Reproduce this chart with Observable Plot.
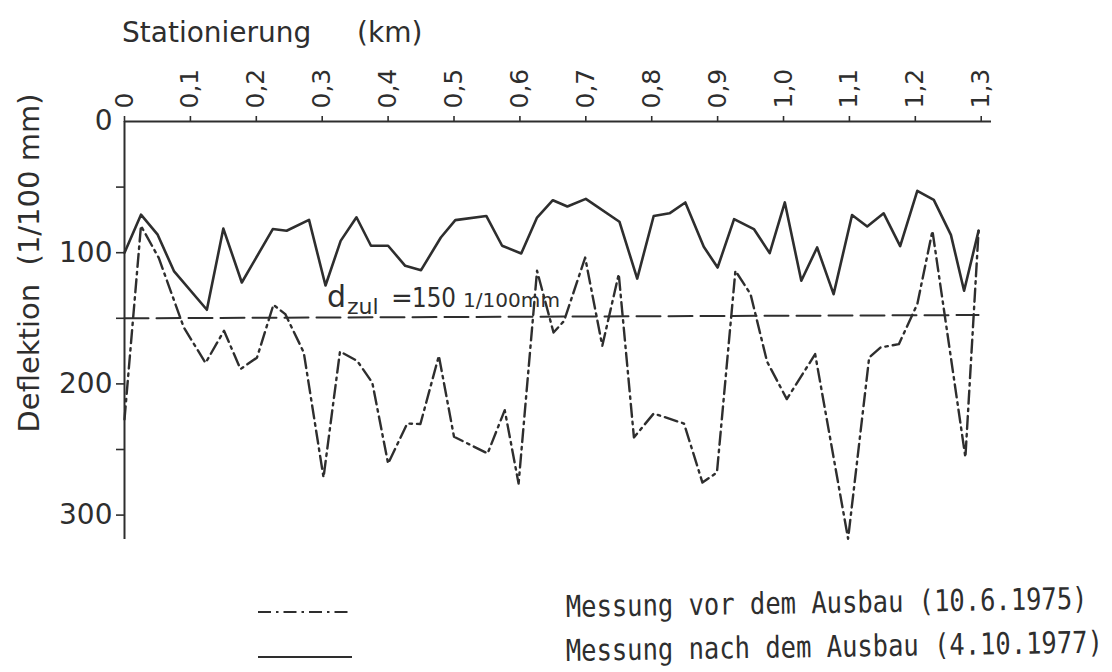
<!DOCTYPE html>
<html>
<head>
<meta charset="utf-8">
<script src="https://cdn.jsdelivr.net/npm/d3@7"></script>
<script src="https://cdn.jsdelivr.net/npm/@observablehq/plot@0.6"></script>
<style>
  html, body { margin: 0; padding: 0; background: #fff; }
  #chart { width: 1112px; height: 672px; overflow: hidden; }
</style>
</head>
<body>
<div id="chart"></div>
<script>
// ---- Data ----
const xTicks = [0, 0.1, 0.2, 0.3, 0.4, 0.5, 0.6, 0.7, 0.8, 0.9, 1.0, 1.1, 1.2, 1.3];
const xTickLabels = ["0", "0,1", "0,2", "0,3", "0,4", "0,5", "0,6", "0,7", "0,8", "0,9", "1,0", "1,1", "1,2", "1,3"];
const yLabelTicks = [0, 100, 200, 300];
const yMinorTicks = [50, 100, 150, 200, 250, 300];

// Messung nach dem Ausbau (4.10.1977) – solid line
const nachKm = [0, 0.025, 0.05, 0.075, 0.125, 0.15, 0.178, 0.225, 0.246, 0.28, 0.305, 0.328, 0.352, 0.374, 0.40, 0.426, 0.45, 0.48, 0.502, 0.549, 0.573, 0.602, 0.626, 0.65, 0.672, 0.70, 0.751, 0.778, 0.803, 0.827, 0.851, 0.879, 0.90, 0.925, 0.955, 0.979, 1.002, 1.027, 1.051, 1.076, 1.104, 1.127, 1.152, 1.177, 1.203, 1.228, 1.254, 1.274, 1.296];
const nachDefl = [100, 71, 86, 114, 143.5, 81.6, 122.7, 82, 83.3, 75, 125, 91, 73, 94.7, 94.7, 110, 113.3, 88.4, 75.2, 72, 94.7, 100.6, 73.2, 60, 64.8, 59, 76.4, 119.7, 72, 70, 61.7, 95.5, 111.3, 74.4, 82, 100.3, 61.7, 121.4, 96, 131.6, 71.3, 80, 70, 95, 52.8, 59.7, 86.4, 129, 83.3];

// Messung vor dem Ausbau (10.6.1975) – dash-dot line
const vorKm = [0, 0.025, 0.052, 0.09, 0.123, 0.151, 0.176, 0.201, 0.226, 0.244, 0.272, 0.302, 0.327, 0.353, 0.376, 0.40, 0.429, 0.449, 0.477, 0.50, 0.551, 0.577, 0.598, 0.626, 0.651, 0.667, 0.699, 0.725, 0.75, 0.773, 0.803, 0.849, 0.877, 0.899, 0.927, 0.95, 0.975, 1.005, 1.048, 1.098, 1.13, 1.147, 1.175, 1.203, 1.226, 1.276, 1.296];
const vorDefl = [227, 79.5, 104, 157, 184, 159.5, 188.7, 180, 139.7, 146.8, 176, 271.3, 175.3, 182.4, 199, 260.7, 230.2, 230.6, 178.6, 240.3, 253, 220, 276, 113.8, 160.8, 152, 103.7, 171, 116.3, 240.8, 222.6, 230.2, 275.2, 267.5, 113.8, 131.6, 183, 211.6, 177.3, 318, 179.9, 172.3, 169.7, 139.2, 83.3, 256, 83.3];

// zulässige Deflektion (dashed reference line)
const dzulKm = [0, 1.296];
const dzulDefl = [150, 147.5];

const titleMain = "Stationierung";
const titleUnit = "(km)";
const yTitle = "Deflektion  (1/100 mm)";
const legendLabels = ["Messung vor dem Ausbau (10.6.1975)", "Messung nach dem Ausbau (4.10.1977)"];

// ---- Tables ----
const nach = nachKm.map((k, i) => ({km: k, d: nachDefl[i]}));
const vor = vorKm.map((k, i) => ({km: k, d: vorDefl[i]}));
const dzul = dzulKm.map((k, i) => ({km: k, d: dzulDefl[i]}));

const ink = "#2e2e2e";
const dashDot = "13,5,2.5,5";

const plot = Plot.plot({
  width: 1112,
  height: 672,
  marginLeft: 124,
  marginRight: 121,
  marginTop: 121,
  marginBottom: 133,
  style: {fontFamily: "DejaVu Sans", color: ink, background: "#fff"},
  x: {domain: [0, 1.3156]},
  y: {domain: [0, 318.6], reverse: true},
  marks: [
    Plot.ruleY([0], {stroke: ink, strokeWidth: 2}),
    Plot.ruleX([0], {stroke: ink, strokeWidth: 2}),
    Plot.axisX({
      anchor: "top", ticks: xTicks, tickSize: 6, tickPadding: 7, tickRotate: -90,
      tickFormat: d => xTickLabels[xTicks.indexOf(d)], fontSize: 25, label: null, stroke: ink, strokeWidth: 1.6
    }),
    Plot.axisY({
      anchor: "left", ticks: yMinorTicks, tickSize: 8, tickFormat: () => "", label: null, stroke: ink, strokeWidth: 1.6
    }),
    Plot.axisY({
      anchor: "left", ticks: yLabelTicks, tickSize: 0, tickPadding: 12, fontSize: 28, label: null
    }),
    Plot.line(dzul, {x: "km", y: "d", stroke: ink, strokeWidth: 2, strokeDasharray: "24,8"}),
    Plot.line(vor, {x: "km", y: "d", stroke: ink, strokeWidth: 2.4, strokeDasharray: dashDot}),
    Plot.line(nach, {x: "km", y: "d", stroke: ink, strokeWidth: 2.6})
  ]
});

document.getElementById("chart").appendChild(plot);

const svg = d3.select(plot);
const sx = plot.scale("x"), sy = plot.scale("y");

// Title above the top axis
const title = svg.append("g").attr("fill", ink).attr("font-family", "DejaVu Sans")
  .attr("font-size", 28).attr("text-anchor", "start");
title.append("text").attr("x", 122).attr("y", 42).text(titleMain);
title.append("text").attr("x", 357).attr("y", 42).text(titleUnit);

// Y axis title
svg.append("text")
  .attr("transform", "translate(39,263) rotate(-90)")
  .attr("text-anchor", "middle")
  .attr("font-family", "DejaVu Sans")
  .attr("font-size", 29)
  .attr("fill", ink)
  .style("white-space", "pre")
  .text(yTitle);

// d_zul annotation, anchored on the data scales
const ax = sx.apply(0.308), ay = sy.apply(141.5);
const ann = svg.append("g").attr("fill", ink).attr("font-family", "DejaVu Sans").attr("text-anchor", "start");
ann.append("text").attr("x", ax).attr("y", ay).attr("font-size", 30).text("d");
ann.append("text").attr("x", ax + 20).attr("y", ay + 7).attr("font-size", 22).text("zul");
ann.append("text").attr("x", ax + 64).attr("y", ay).attr("font-size", 26).text("=");
ann.append("text").attr("x", ax + 85).attr("y", ay).attr("font-size", 26).attr("textLength", 44).attr("lengthAdjust", "spacingAndGlyphs").text("150");
ann.append("text").attr("x", ax + 136).attr("y", ay).attr("font-size", 20).attr("textLength", 97).attr("lengthAdjust", "spacingAndGlyphs").text("1/100mm");

// Legend below the plot
const leg = svg.append("g").attr("text-anchor", "start");
leg.append("line").attr("x1", 258).attr("x2", 352).attr("y1", 612).attr("y2", 612)
  .attr("stroke", ink).attr("stroke-width", 2.2).attr("stroke-dasharray", dashDot);
leg.append("line").attr("x1", 258).attr("x2", 352).attr("y1", 657).attr("y2", 657)
  .attr("stroke", ink).attr("stroke-width", 2.2);
const legY = [617, 661];
legendLabels.forEach((t, i) => {
  leg.append("text")
    .attr("x", 0).attr("y", 0)
    .attr("transform", `translate(566,${legY[i]}) rotate(-0.9) scale(1,1.18)`)
    .attr("font-family", "DejaVu Sans Mono")
    .attr("font-size", 25.5)
    .attr("fill", ink)
    .text(t);
});
</script>
</body>
</html>
